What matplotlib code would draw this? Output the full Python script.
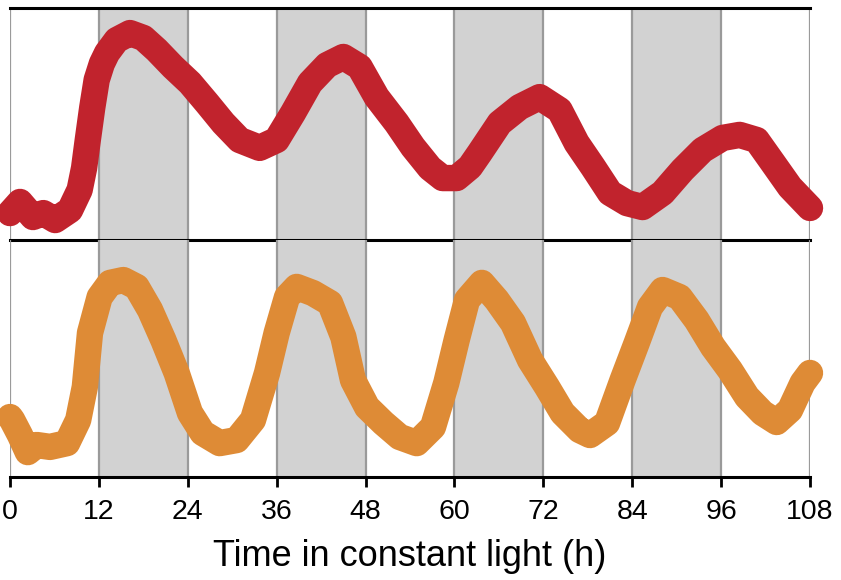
import matplotlib
matplotlib.use("Agg")
import matplotlib.pyplot as plt

plt.rcParams['font.family'] = ['Liberation Sans', 'DejaVu Sans']

# time points (h) and relative levels
t_top = [0, 1.35, 3.1, 4.5, 6.1, 8.1, 9.4, 10.0, 10.5, 11.1, 11.7, 12.4, 13.1, 14.4, 16.2, 18, 19.8,
         22, 24.3, 26.6, 28.8, 31, 33.7, 36, 38.2, 40.5, 42.8, 45, 47.2, 49.5,
         52.2, 54.4, 56.7, 58.4, 60.3, 62.1, 63.4, 66.1, 68.8, 71.5, 74.2, 76.5,
         78.7, 81, 83.3, 85.4, 88.1, 90.8, 93.5, 96.2, 98.5, 100.8, 103, 105.3, 108]
v_top = [11.6, 16.4, 9.9, 11.6, 8.6, 12.9, 21.6, 31, 43.1, 57, 69, 76, 80.6, 86.2, 89.2, 87.1, 81.9,
         74.6, 67.7, 59, 50.4, 43.1, 39.7, 43.1, 54.7, 67.7, 75.4, 78.9, 74.6, 61.6,
         50.4, 40.1, 31, 26.7, 26.7, 31.5, 37.5, 50.4, 57.3, 61.6, 56, 41.8,
         31.5, 20.3, 15.9, 14.2, 20.3, 30.2, 38.8, 44, 45.3, 43.1, 33.2, 22.8, 13.8]

t_bot = [0, 0.3, 1.35, 2.4, 3.6, 5.4, 7.7, 9.2, 10.1, 10.8, 12.1, 13.5, 15.3, 17.1, 18.9,
         20.7, 22.5, 24.3, 26, 28.3, 30.6, 32.8, 34.7, 36, 37.4, 38.7, 40.9, 43.2,
         45, 46.3, 48.2, 50.4, 52.6, 54.9, 57.1, 58.9, 60.3, 61.7, 63.7, 65.7,
         67.9, 70.2, 72.5, 74.6, 76.9, 78.3, 80.6, 82.7, 84.6, 86.4, 88.1, 90.4,
         92.7, 94.9, 97.2, 99.5, 101.6, 103.5, 105.3, 107, 108]
v_bot = [25.3, 24, 17.7, 10.5, 13.5, 12.7, 14.3, 24, 38, 60.8, 75.9, 81.9, 83.1, 80.2, 70.5,
         57.8, 43.9, 27, 18.6, 14.3, 15.6, 24.1, 43.9, 60.8, 75.9, 80.2, 77.6, 73.4,
         59.1, 40.9, 29.5, 22.8, 16.9, 14.3, 21.1, 39.7, 57.8, 74.7, 81.9, 74.7,
         65, 49.4, 38, 27, 19.8, 17.7, 22.8, 40.9, 56.5, 71.7, 78.9, 75.9,
         66.2, 54.9, 45.1, 33.8, 27, 23.2, 28.3, 39.7, 43.9]

dark_starts = [12, 36, 60, 84]
ticks = [0, 12, 24, 36, 48, 60, 72, 84, 96, 108]

fig = plt.figure(figsize=(8.41, 5.80), dpi=100)
ax1 = fig.add_axes([10/841, 1-240/580, 800/841, 232/580])
ax2 = fig.add_axes([10/841, 1-477/580, 800/841, 237/580])

for ax, t, v, col in [(ax1, t_top, v_top, '#c1232d'), (ax2, t_bot, v_bot, '#de8b36')]:
    ax.patch.set_visible(False)
    for s in dark_starts:
        ax.axvspan(s, s + 12, color='#d2d2d2', lw=0, zorder=0)
    for x in ticks:
        ax.axvline(x, color='#9a9a9a', lw=1.6, zorder=1)
    ax.plot(t, v, color=col, lw=19, solid_capstyle='round', solid_joinstyle='round',
            zorder=3, clip_on=False)
    ax.set_xlim(0, 108)
    ax.set_ylim(0, 100)
    ax.set_yticks([])
    for side in ['left', 'right']:
        ax.spines[side].set_visible(False)
    for side in ['top', 'bottom']:
        ax.spines[side].set_linewidth(2.2)
        ax.spines[side].set_color('black')
        ax.spines[side].set_zorder(4)

ax1.set_xticks([])
ax2.spines['top'].set_visible(False)
ax2.set_xticks(ticks)
ax2.tick_params(axis='x', direction='out', length=7, width=2, pad=9, labelsize=20.5)
ax2.set_xlabel("Time in constant light (h)", fontsize=26, labelpad=10)

fig.savefig("out.png", dpi=100)
